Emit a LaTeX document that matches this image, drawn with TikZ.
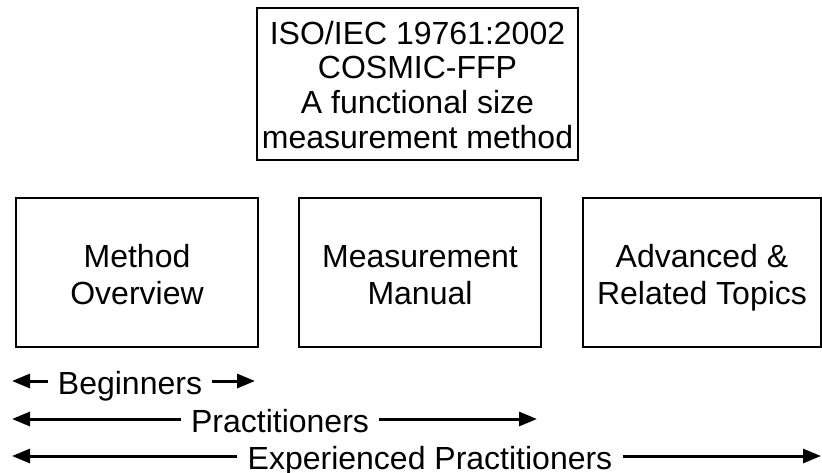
\documentclass[tikz,border=0pt]{standalone}
\usepackage{fontspec}
\setmainfont{Liberation Sans}
\usetikzlibrary{arrows.meta}
\begin{document}
\begin{tikzpicture}[x=0.5pt, y=-0.5pt,
            box/.style={draw, rectangle, line width=1pt, align=center, inner sep=0pt, font=\fontsize{16}{18.5}\selectfont, minimum height=74.5pt, text height=35pt, text depth=3.5pt},
            audience/.style={inner xsep=5pt, inner ysep=0pt, text height=13pt, text depth=0pt, font=\fontsize{16}{18.5}\selectfont},
            arrow/.style={-{Triangle[length=9pt, width=7pt]}, line width=1.5pt}
        ]
            \useasboundingbox (0,0) rectangle (822,472);

% Standard on top
            \node (iso) [box, font=\fontsize{16}{17.3}\selectfont, minimum width=160.5pt, minimum height=76pt, text height=67.5pt] at (417.5,84) {ISO/IEC 19761:2002 \\ COSMIC-FFP \\ A functional size \\ measurement method};

% The three documents
            \node (overview) [box, minimum width=121pt] at (137,272.5) {Method \\ Overview};
            \node (manual) [box, minimum width=121pt] at (420,272.5) {Measurement \\ Manual};
            \node (topics) [box, minimum width=119pt] at (702,272.5) {Advanced \& \\ Related Topics};

% Readers and the span of documents they use
            \node (beginners) [audience] at (130,381) {Beginners};
            \node (practitioners) [audience] at (280,419) {Practitioners};
            \node (experienced) [audience] at (430,456) {Experienced Practitioners};

            \coordinate (begL) at (12,381);
            \coordinate (begR) at (255,381);
            \coordinate (pracL) at (12,419);
            \coordinate (pracR) at (537,419);
            \coordinate (expL) at (12,456);
            \coordinate (expR) at (821,456);

            \draw [arrow] (beginners.west) -- (begL);
            \draw [arrow] (beginners.east) -- (begR);
            \draw [arrow] (practitioners.west) -- (pracL);
            \draw [arrow] (practitioners.east) -- (pracR);
            \draw [arrow] (experienced.west) -- (expL);
            \draw [arrow] (experienced.east) -- (expR);

        \end{tikzpicture}
\end{document}
